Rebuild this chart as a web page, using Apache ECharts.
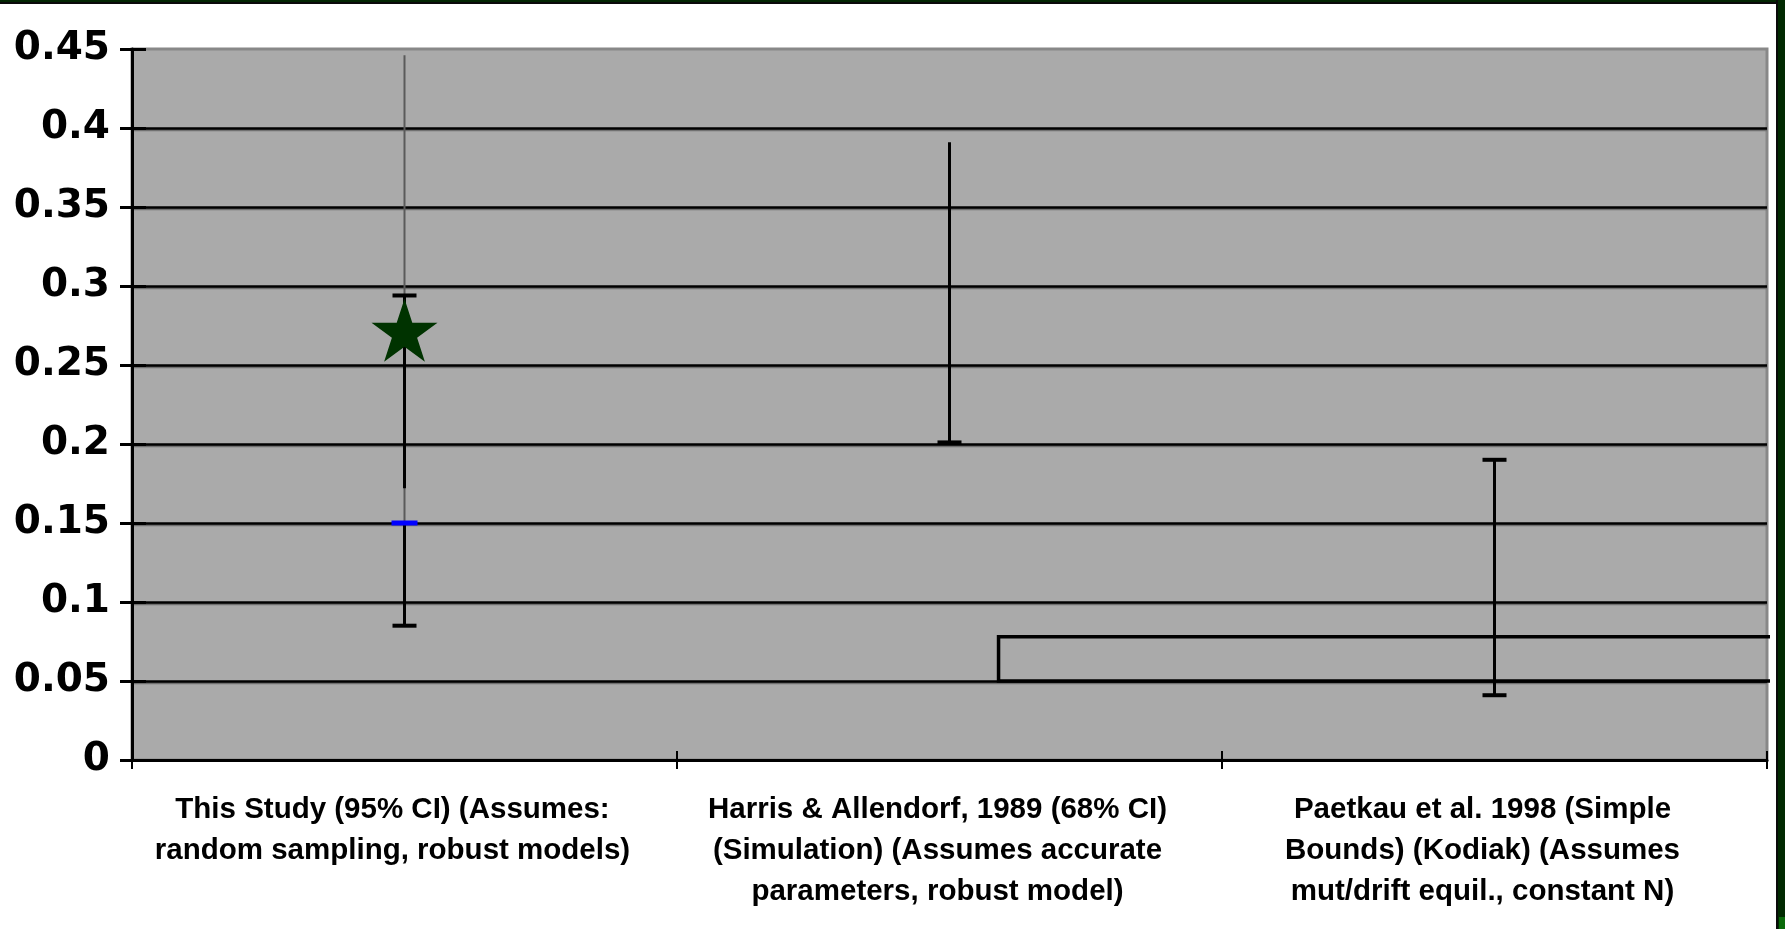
<!DOCTYPE html>
<html>
<head>
<meta charset="utf-8">
<script src="https://cdn.jsdelivr.net/npm/echarts@6/dist/echarts.min.js"></script>
<style>
  html, body { margin: 0; padding: 0; background: #ffffff; }
  #chart { width: 1785px; height: 929px; }
</style>
</head>
<body>
<div id="chart"></div>
<script>
// Study labels along the x axis
const categories = [
  'This Study (95% CI) (Assumes:\nrandom sampling, robust models)',
  'Harris & Allendorf, 1989 (68% CI)\n(Simulation) (Assumes accurate\nparameters, robust model)',
  'Paetkau et al. 1998 (Simple\nBounds) (Kodiak) (Assumes\nmut/drift equil., constant N)'
];

// Y axis range
const yMin = 0;
const yMax = 0.45;
const yStep = 0.05;

// Point estimate (star) for this study
const starPoint = [0, 0.272];

// Confidence ranges: [category, low, high, cap on low end, cap on high end]
const ciCategory = [0, 0, 1, 2];
const ciLow      = [0.172, 0.085, 0.201, 0.041];
const ciHigh     = [0.294, 0.150, 0.391, 0.190];
const ciCapLow   = [0, 1, 1, 1];
const ciCapHigh  = [1, 0, 0, 1];

// Second estimate for this study (blue dash) with its upper range (thin line)
const altEstimate = [0, 0.150];
const altUpper = 0.446;

// Outline range drawn across the right half of the plot
const bracketX = [1.09, 2.55];
const bracketY = [0.05, 0.078];

const ciData = ciCategory.map((c, i) => [c, ciLow[i], ciHigh[i], ciCapLow[i], ciCapHigh[i]]);

const starPath = 'path://M0,-100L22.45,-30.9L95.11,-30.9L36.33,11.8L58.78,80.9L0,38.2L-58.78,80.9L-36.33,11.8L-95.11,-30.9L-22.45,-30.9Z';

function renderRange(params, api) {
  const x = api.value(0);
  const lo = api.coord([x, api.value(1)]);
  const hi = api.coord([x, api.value(2)]);
  const capHalf = 12;
  const children = [{
    type: 'line',
    shape: { x1: lo[0], y1: lo[1], x2: hi[0], y2: hi[1] },
    style: { stroke: '#000000', lineWidth: 3 }
  }];
  if (api.value(3)) {
    children.push({
      type: 'line',
      shape: { x1: lo[0] - capHalf, y1: lo[1], x2: lo[0] + capHalf, y2: lo[1] },
      style: { stroke: '#000000', lineWidth: 4 }
    });
  }
  if (api.value(4)) {
    children.push({
      type: 'line',
      shape: { x1: hi[0] - capHalf, y1: hi[1], x2: hi[0] + capHalf, y2: hi[1] },
      style: { stroke: '#000000', lineWidth: 4 }
    });
  }
  return { type: 'group', children: children };
}

const chart = echarts.init(document.getElementById('chart'), null, { renderer: 'canvas' });

const labelFont = 'Liberation Sans, Arial, sans-serif';
const tickFont = 'DejaVu Sans, Verdana, sans-serif';

chart.setOption({
  animation: false,
  backgroundColor: '#ffffff',
  grid: {
    left: 132, top: 49, right: 18, bottom: 169,
    show: true,
    backgroundColor: '#aaaaaa',
    borderColor: '#888888',
    borderWidth: 3
  },
  xAxis: [
    {
      type: 'category',
      data: categories,
      boundaryGap: true,
      axisLine: { show: true, onZero: false, lineStyle: { color: '#000000', width: 3 } },
      axisTick: { show: true, length: 9, lineStyle: { color: '#000000', width: 2 } },
      axisLabel: {
        color: '#000000',
        fontFamily: labelFont,
        fontWeight: 'bold',
        fontSize: 29.5,
        lineHeight: 41,
        margin: 29,
        interval: 0,
        padding: [0, 24, 0, 0]
      },
      splitLine: { show: false }
    },
    {
      type: 'category',
      data: categories,
      position: 'bottom',
      boundaryGap: true,
      axisLine: { show: false, onZero: false },
      axisTick: { show: true, inside: true, length: 9, lineStyle: { color: '#000000', width: 2 } },
      axisLabel: { show: false },
      splitLine: { show: false }
    },
    {
      type: 'value',
      min: -0.5,
      max: 2.5,
      show: false,
      axisLine: { onZero: false }
    }
  ],
  yAxis: [
    {
      type: 'value',
      min: yMin,
      max: yMax,
      interval: yStep,
      axisLine: { show: true, onZero: false, lineStyle: { color: '#000000', width: 3 } },
      axisTick: { show: true, length: 12, lineStyle: { color: '#000000', width: 3 } },
      axisLabel: {
        color: '#000000',
        fontFamily: tickFont,
        fontWeight: 'bold',
        fontSize: 39,
        margin: 22,
        formatter: v => String(+v.toFixed(2))
      },
      splitLine: {
        show: true,
        showMinLine: false,
        showMaxLine: false,
        lineStyle: {
          color: '#000000', width: 2.5,
          shadowColor: '#707070', shadowOffsetY: 1.5, shadowBlur: 0
        }
      }
    },
    {
      type: 'value',
      min: yMin,
      max: yMax,
      interval: yStep,
      position: 'left',
      axisLine: { show: false, onZero: false },
      axisTick: { show: true, inside: true, length: 14, lineStyle: { color: '#000000', width: 3 } },
      axisLabel: { show: false },
      splitLine: { show: false }
    }
  ],
  series: [
    {
      name: 'Upper range',
      type: 'line',
      xAxisIndex: 0,
      yAxisIndex: 0,
      data: [[altEstimate[0], altEstimate[1]], [altEstimate[0], altUpper]],
      symbol: 'none',
      lineStyle: { color: '#5a5a5a', width: 2 },
      z: 2,
      silent: true
    },
    {
      name: 'Confidence interval',
      type: 'custom',
      xAxisIndex: 0,
      yAxisIndex: 0,
      renderItem: renderRange,
      encode: { x: 0, y: [1, 2] },
      data: ciData,
      z: 3,
      silent: true
    },
    {
      name: 'Second estimate',
      type: 'scatter',
      xAxisIndex: 0,
      yAxisIndex: 0,
      data: [altEstimate],
      symbol: 'rect',
      symbolSize: [26, 5],
      itemStyle: { color: '#0000ff', opacity: 1 },
      z: 4,
      silent: true
    },
    {
      name: 'Estimate',
      type: 'scatter',
      xAxisIndex: 0,
      yAxisIndex: 0,
      data: [starPoint],
      symbol: starPath,
      symbolSize: [66, 63],
      itemStyle: { color: '#003300', opacity: 1 },
      z: 5,
      silent: true
    },
    {
      name: 'Simple bounds',
      type: 'line',
      xAxisIndex: 2,
      yAxisIndex: 0,
      data: [
        [bracketX[1], bracketY[1]],
        [bracketX[0], bracketY[1]],
        [bracketX[0], bracketY[0]],
        [bracketX[1], bracketY[0]]
      ],
      symbol: 'none',
      clip: false,
      lineStyle: { color: '#000000', width: 3.5, join: 'miter' },
      z: 6,
      silent: true
    }
  ],
  graphic: [
    { type: 'rect', shape: { x: 0, y: 0, width: 1785, height: 2 }, style: { fill: '#022602' }, z: 100 },
    { type: 'rect', shape: { x: 0, y: 2, width: 1785, height: 2 }, style: { fill: '#0a0a0a' }, z: 100 },
    { type: 'rect', shape: { x: 1776, y: 0, width: 2, height: 929 }, style: { fill: '#0a0a0a' }, z: 100 },
    { type: 'rect', shape: { x: 1778, y: 0, width: 7, height: 929 }, style: { fill: '#012a01' }, z: 100 },
    { type: 'rect', shape: { x: 1779, y: 917, width: 6, height: 12 }, style: { fill: '#0a6a0a' }, z: 101 }
  ]
});
</script>
</body>
</html>
